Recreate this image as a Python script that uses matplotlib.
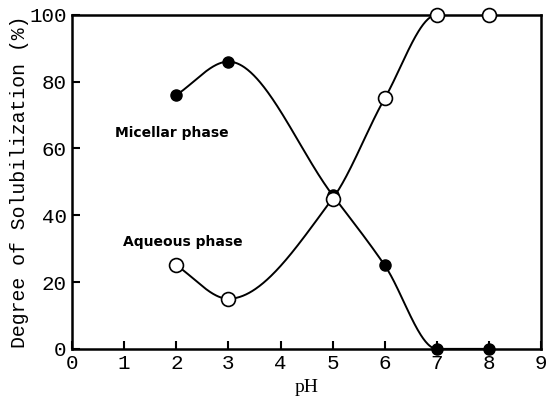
import numpy as np
from matplotlib import pyplot as plt

plt.rcParams['font.family'] = ['Liberation Mono', 'DejaVu Sans']

# data
ph = [2, 3, 5, 6, 7, 8]
micellar = [76, 86, 46, 25, 0, 0]
aqueous = [25, 15, 45, 75, 100, 100]


def pchip(x, y, xs):
    # monotone cubic curve through the points (Fritsch-Carlson)
    x = np.asarray(x, float)
    y = np.asarray(y, float)
    h = np.diff(x)
    d = np.diff(y) / h
    m = np.zeros_like(y)
    for k in range(1, len(x) - 1):
        if d[k - 1] * d[k] > 0:
            w1 = 2 * h[k] + h[k - 1]
            w2 = h[k] + 2 * h[k - 1]
            m[k] = (w1 + w2) / (w1 / d[k - 1] + w2 / d[k])
    m[0] = d[0]
    m[-1] = d[-1]
    i = np.clip(np.searchsorted(x, xs) - 1, 0, len(h) - 1)
    t = (xs - x[i]) / h[i]
    h00 = 2 * t**3 - 3 * t**2 + 1
    h10 = t**3 - 2 * t**2 + t
    h01 = -2 * t**3 + 3 * t**2
    h11 = t**3 - t**2
    return h00 * y[i] + h10 * h[i] * m[i] + h01 * y[i + 1] + h11 * h[i] * m[i + 1]


fig = plt.figure(figsize=(5.46, 4.01), dpi=100)
ax = fig.add_axes([0.132, 0.130, 0.859, 0.833])

xs = np.linspace(2, 8, 400)
ax.plot(xs, pchip(ph, micellar, xs), color='black', lw=1.4, zorder=2)
ax.plot(xs, pchip(ph, aqueous, xs), color='black', lw=1.4, zorder=2)
ax.plot(ph, micellar, 'o', color='black', ms=8, zorder=3, clip_on=False)
ax.plot(ph, aqueous, 'o', mfc='white', mec='black', mew=1.2, ms=10, zorder=3, clip_on=False)

ax.text(0.83, 64.7, 'Micellar phase', fontsize=10, fontweight='bold',
        family=['DejaVu Sans'], va='center')
ax.text(0.98, 32, 'Aqueous phase', fontsize=10, fontweight='bold',
        family=['DejaVu Sans'], va='center')

ax.set_xlim(0, 9)
ax.set_ylim(0, 100)
ax.set_xticks(range(0, 10))
ax.set_yticks(range(0, 101, 20))
ax.tick_params(direction='in', length=6, width=1.5, labelsize=15, pad=4)
for s in ax.spines.values():
    s.set_linewidth(1.8)
ax.set_xlabel('pH', fontsize=14, family=['Liberation Serif'], labelpad=4)
ax.set_ylabel('Degree of Solubilization (%)', fontsize=14.3, labelpad=0)

plt.savefig('out.png', dpi=100)
